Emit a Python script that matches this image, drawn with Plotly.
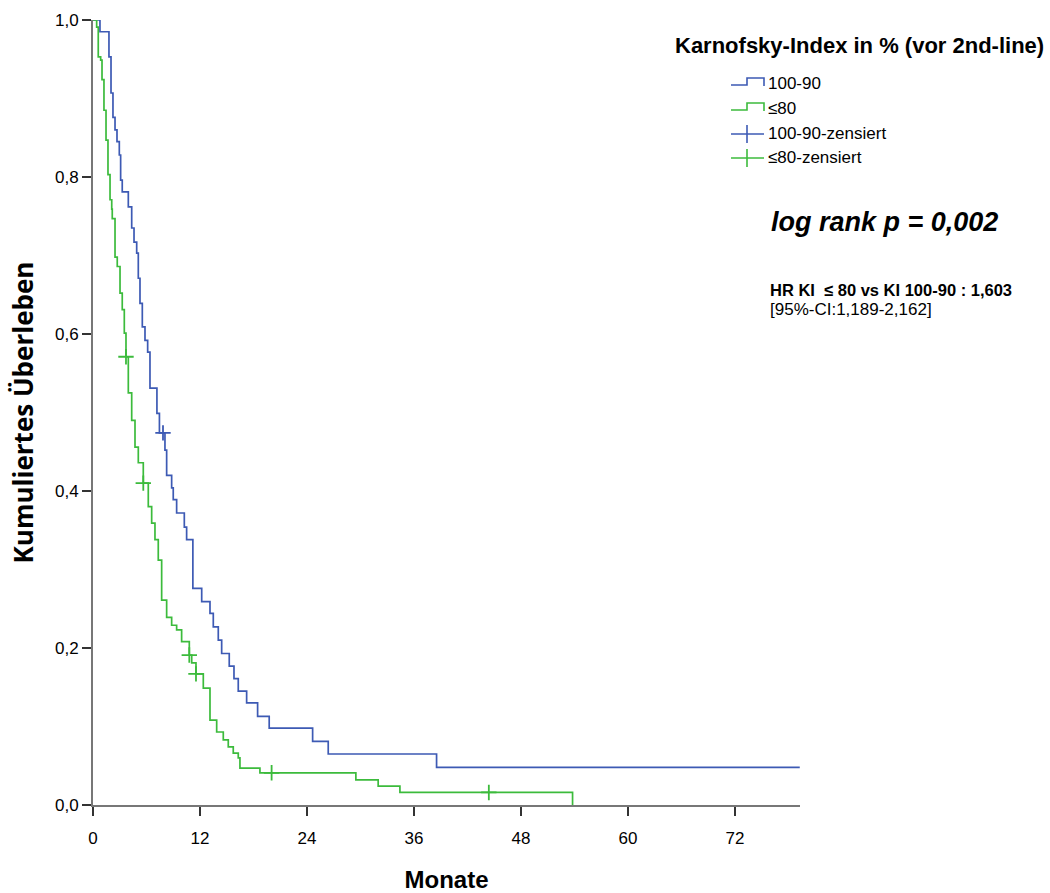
import numpy as np
import plotly.graph_objects as go

# ---------------- data ----------------
blue_name = "100-90"
green_name = "≤80"

blue_t = [0, 0.78, 1.79, 2.02, 2.24, 2.47, 2.69, 2.95, 3.10, 3.28, 3.96, 4.34, 4.60, 4.90,
          5.08, 5.27, 5.53, 5.83, 6.13, 6.39, 7.17, 7.45, 8.07, 8.26, 8.82, 9.00, 9.38,
          10.24, 10.50, 11.20, 12.19, 13.12, 13.49, 14.05, 14.43, 15.28, 15.81, 16.29,
          17.23, 18.46, 19.76, 24.63, 26.38, 38.53, 79.26]
blue_s = [1.0, 0.985, 0.953, 0.907, 0.876, 0.860, 0.845, 0.828, 0.796, 0.781, 0.762, 0.735,
          0.717, 0.703, 0.671, 0.639, 0.609, 0.592, 0.577, 0.531, 0.499, 0.474, 0.452, 0.420,
          0.404, 0.389, 0.372, 0.354, 0.338, 0.276, 0.259, 0.244, 0.227, 0.210, 0.193,
          0.177, 0.161, 0.145, 0.130, 0.113, 0.098, 0.081, 0.065, 0.048, 0.048]
blue_cens_t = [7.85]

green_t = [0, 0.41, 0.59, 0.86, 1.01, 1.23, 1.46, 1.68, 1.91, 2.10, 2.16, 2.47, 2.72, 3.03,
           3.28, 3.51, 3.70, 3.96, 4.34, 4.71, 5.08, 5.64, 6.20, 6.58, 6.95, 7.32, 7.70,
           8.26, 8.82, 9.38, 9.94, 10.80, 11.07, 11.55, 12.37, 13.12, 13.87, 14.61, 15.17,
           15.73, 16.29, 16.48, 18.72, 29.48, 31.98, 34.42, 53.78]
green_s = [1.0, 0.991, 0.953, 0.949, 0.924, 0.885, 0.847, 0.803, 0.771, 0.759, 0.747, 0.698,
           0.686, 0.652, 0.631, 0.601, 0.571, 0.525, 0.490, 0.456, 0.436, 0.410, 0.380,
           0.359, 0.338, 0.312, 0.261, 0.239, 0.229, 0.223, 0.208, 0.191, 0.181, 0.167,
           0.149, 0.108, 0.093, 0.083, 0.074, 0.066, 0.060, 0.047, 0.041, 0.032, 0.024,
           0.016, 0.0]
green_cens_t = [3.70, 5.64, 10.80, 11.55, 20.03, 44.39]

x_ticks = [0, 12, 24, 36, 48, 60, 72]
y_ticks = [0.0, 0.2, 0.4, 0.6, 0.8, 1.0]

BLUE = "#3d5ab4"
GREEN = "#3cbb3c"

def step_value(ts, ss, t):
    i = np.searchsorted(np.asarray(ts), t, side="right") - 1
    return ss[max(i, 0)]

fig = go.Figure()
fig.add_trace(go.Scatter(x=blue_t, y=blue_s, mode="lines", line=dict(shape="hv", color=BLUE, width=1.7),
                         name=blue_name, showlegend=False, cliponaxis=False))
fig.add_trace(go.Scatter(x=green_t, y=green_s, mode="lines", line=dict(shape="hv", color=GREEN, width=1.7),
                         name=green_name, showlegend=False, cliponaxis=False))
fig.add_trace(go.Scatter(x=blue_cens_t, y=[step_value(blue_t, blue_s, t) for t in blue_cens_t],
                         mode="markers", marker=dict(symbol="cross-thin", size=11, line=dict(color=BLUE, width=1.8)),
                         name=blue_name + "-zensiert", showlegend=False, cliponaxis=False))
fig.add_trace(go.Scatter(x=green_cens_t, y=[step_value(green_t, green_s, t) for t in green_cens_t],
                         mode="markers", marker=dict(symbol="cross-thin", size=11, line=dict(color=GREEN, width=1.8)),
                         name=green_name + "-zensiert", showlegend=False, cliponaxis=False))

# ---------------- layout ----------------
W, H = 1050, 893
L, R, T, B = 93, 800, 20, 805

def px(x):
    return (x - L) / (R - L)

def py(y):
    return (B - y) / (B - T)

shapes = []
annotations = []
# custom legend
rows = [(84, BLUE, "step", "100-90"), (109, GREEN, "step", "≤80"),
        (134, BLUE, "cross", "100-90-zensiert"), (158, GREEN, "cross", "≤80-zensiert")]
for yc, col, kind, label in rows:
    if kind == "step":
        path = "M {} {} L {} {} L {} {} L {} {} L {} {}".format(
            px(731), py(yc + 1), px(747), py(yc + 1), px(747), py(yc - 6), px(764), py(yc - 6), px(764), py(yc + 2))
        shapes.append(dict(type="path", path=path, xref="paper", yref="paper",
                           line=dict(color=col, width=1.6)))
    else:
        shapes.append(dict(type="line", xref="paper", yref="paper", x0=px(731), x1=px(764),
                           y0=py(yc), y1=py(yc), line=dict(color=col, width=1.6)))
        shapes.append(dict(type="line", xref="paper", yref="paper", x0=px(747), x1=px(747),
                           y0=py(yc - 9), y1=py(yc + 9), line=dict(color=col, width=1.6)))
    annotations.append(dict(text=label, xref="paper", yref="paper", x=px(766), y=py(yc),
                            xanchor="left", yanchor="middle", showarrow=False,
                            font=dict(family="Liberation Sans, Arial, sans-serif", size=17, color="#000")))

annotations.append(dict(text="<b>Karnofsky-Index in % (vor 2nd-line)</b>", xref="paper", yref="paper",
                        x=px(1046), y=py(46), xanchor="right", yanchor="middle", showarrow=False,
                        font=dict(family="Liberation Sans, Arial, sans-serif", size=22, color="#000")))
annotations.append(dict(text="<b><i>log rank p = 0,002</i></b>", xref="paper", yref="paper",
                        x=px(769), y=py(222), xanchor="left", yanchor="middle", showarrow=False,
                        font=dict(family="Liberation Sans, Arial, sans-serif", size=27, color="#000")))
annotations.append(dict(text="<b>HR KI  ≤ 80 vs KI 100-90 : 1,603</b>", xref="paper", yref="paper",
                        x=px(768), y=py(290), xanchor="left", yanchor="middle", showarrow=False,
                        font=dict(family="Liberation Sans, Arial, sans-serif", size=16.5, color="#000")))
annotations.append(dict(text="[95%-CI:1,189-2,162]", xref="paper", yref="paper",
                        x=px(768), y=py(309), xanchor="left", yanchor="middle", showarrow=False,
                        font=dict(family="Liberation Sans, Arial, sans-serif", size=17, color="#000")))

fig.update_layout(
    width=W, height=H,
    margin=dict(l=L, r=W - R, t=T, b=H - B, pad=0, autoexpand=False),
    paper_bgcolor="white", plot_bgcolor="white",
    separators=",.",
    shapes=shapes, annotations=annotations,
    showlegend=False,
    font=dict(family="Liberation Sans, Arial, sans-serif", color="#000"),
)
fig.update_xaxes(range=[0, (R - L) / 8.917], tickvals=x_ticks, ticktext=[str(v) for v in x_ticks],
                 automargin=False,
                 showgrid=False, zeroline=False, showline=True, linecolor="#777", linewidth=2,
                 ticks="outside", ticklen=9, tickwidth=2, tickcolor="#333",
                 ticklabelstandoff=8,
                 tickfont=dict(family="Liberation Sans Narrow, Arial Narrow, sans-serif", size=17),
                 title=dict(text="<b>Monate</b>", standoff=26,
                            font=dict(family="Liberation Sans Narrow, Liberation Sans, sans-serif", size=24)))
fig.update_yaxes(range=[0, 1.0], tickvals=y_ticks, tickformat=".1f",
                 automargin=False,
                 showgrid=False, zeroline=False, showline=True, linecolor="#777", linewidth=2,
                 ticks="outside", ticklen=9, tickwidth=2, tickcolor="#333",
                 tickfont=dict(family="Liberation Sans Narrow, Arial Narrow, sans-serif", size=17),
                 title=dict(text="<b>Kumuliertes Überleben</b>", standoff=14,
                            font=dict(family="Open Sans, sans-serif", size=26)))

fig.write_html("out.html")
